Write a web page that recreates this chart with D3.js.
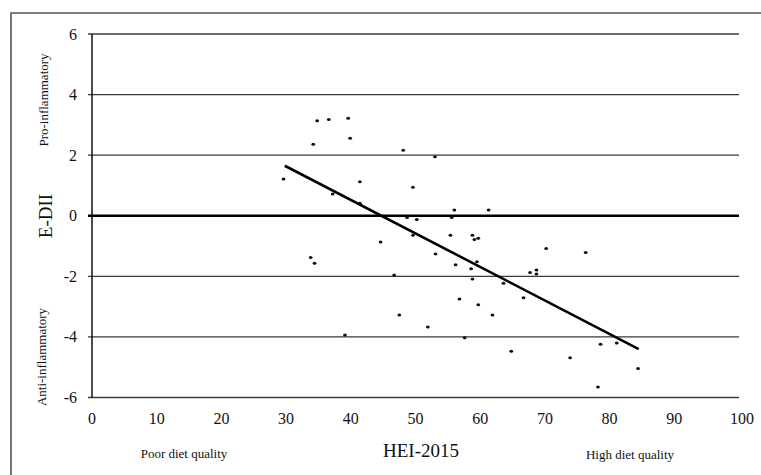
<!DOCTYPE html>
<html>
<head>
<meta charset="utf-8">
<script src="https://cdn.jsdelivr.net/npm/d3@7"></script>
<style>
  body { margin: 0; background: #fff; }
  text { font-family: "Liberation Serif", "Times New Roman", serif; fill: #111; }
</style>
</head>
<body>
<div class="chart"></div>
<script>
//HEI-2015 score of each subject
var heiScores = [34.8, 36.6, 39.6, 34.2, 39.9, 48.1, 53.0, 29.6, 41.4, 49.6,
  37.2, 41.4, 56.0, 61.3, 48.7, 50.2, 55.6, 49.6, 55.4, 58.8,
  59.1, 59.7, 44.6, 70.2, 76.3, 53.1, 33.8, 34.4, 59.5, 56.2,
  58.6, 67.7, 68.7, 68.7, 46.7, 58.8, 63.6, 56.8, 66.7, 59.7,
  47.5, 61.9, 51.9, 39.1, 57.6, 64.8, 73.9, 78.6, 81.1, 84.4, 78.2];

//E-DII score of each subject
var ediiScores = [3.14, 3.18, 3.22, 2.36, 2.56, 2.16, 1.95, 1.21, 1.12, 0.94,
  0.72, 0.41, 0.19, 0.19, -0.06, -0.12, -0.06, -0.64, -0.64, -0.64,
  -0.78, -0.74, -0.87, -1.08, -1.21, -1.26, -1.38, -1.57, -1.52, -1.62,
  -1.75, -1.87, -1.79, -1.92, -1.96, -2.09, -2.23, -2.75, -2.71, -2.94,
  -3.28, -3.28, -3.67, -3.94, -4.03, -4.47, -4.69, -4.24, -4.20, -5.04, -5.65];

//ends of the fitted line
var trendX = [29.8, 84.5];
var trendY = [1.65, -4.40];

//tick labels
var xTicks = [0, 10, 20, 30, 40, 50, 60, 70, 80, 90, 100];
var yTicks = [-6, -4, -2, 0, 2, 4, 6];

const w = 761;
const h = 475;

const svg = d3.select(".chart")
  .append("svg")
  .attr("width", w)
  .attr("height", h);

svg.append("rect").attr("width", w).attr("height", h).attr("fill", "#fff");

//outer frame (only left and top visible)
svg.append("path")
  .attr("d", "M11,475 L11,13 L761,13")
  .attr("fill", "none")
  .attr("stroke", "#555")
  .attr("stroke-width", 1.6);

const xScale = d3.scaleLinear().domain([0, 100]).range([92, 739]);
const yScale = d3.scaleLinear().domain([-6, 6]).range([397.5, 34]);

//horizontal grid lines (extend a little left as tick marks)
svg.selectAll(".grid")
  .data(yTicks)
  .enter()
  .append("line")
  .attr("x1", xScale(0) - 4)
  .attr("x2", xScale(100))
  .attr("y1", (d) => yScale(d))
  .attr("y2", (d) => yScale(d))
  .attr("stroke", (d) => d === 0 ? "#000" : "#3a3a3a")
  .attr("stroke-width", (d) => d === 0 ? 2.6 : 1.4);

//y axis line
svg.append("line")
  .attr("x1", xScale(0))
  .attr("x2", xScale(0))
  .attr("y1", yScale(6))
  .attr("y2", yScale(-6))
  .attr("stroke", "#111")
  .attr("stroke-width", 1.5);

//y tick labels
svg.selectAll(".ylab")
  .data(yTicks)
  .enter()
  .append("text")
  .attr("x", xScale(0) - 15)
  .attr("y", (d) => yScale(d) + 5.5)
  .attr("text-anchor", "end")
  .style("font-size", "16px")
  .text((d) => d);

//x tick labels
svg.selectAll(".xlab")
  .data(xTicks)
  .enter()
  .append("text")
  .attr("x", (d) => xScale(d) + (d === 100 ? 3 : 0))
  .attr("y", 424)
  .attr("text-anchor", "middle")
  .style("font-size", "16px")
  .text((d) => d);

//the subjects
svg.selectAll(".dot")
  .data(heiScores)
  .enter()
  .append("ellipse")
  .attr("cx", (d) => xScale(d))
  .attr("cy", (d, i) => yScale(ediiScores[i]))
  .attr("rx", 1.9)
  .attr("ry", 1.5)
  .attr("fill", "#111");

//fitted line
svg.append("line")
  .attr("x1", xScale(trendX[0]))
  .attr("y1", yScale(trendY[0]))
  .attr("x2", xScale(trendX[1]))
  .attr("y2", yScale(trendY[1]))
  .attr("stroke", "#000")
  .attr("stroke-width", 2.6);

//axis titles
svg.append("text")
  .attr("transform", "translate(52,216) rotate(-90)")
  .attr("text-anchor", "middle")
  .style("font-size", "19px")
  .text("E-DII");

svg.append("text")
  .attr("x", 421)
  .attr("y", 457)
  .attr("text-anchor", "middle")
  .style("font-size", "19px")
  .text("HEI-2015");

//side notes
svg.append("text")
  .attr("transform", "translate(48,100) rotate(-90)")
  .attr("text-anchor", "middle")
  .style("font-size", "13px")
  .text("Pro-inflammatory");

svg.append("text")
  .attr("transform", "translate(46,357) rotate(-90)")
  .attr("text-anchor", "middle")
  .style("font-size", "13px")
  .text("Anti-inflammatory");

svg.append("text")
  .attr("x", 184)
  .attr("y", 458)
  .attr("text-anchor", "middle")
  .style("font-size", "13px")
  .text("Poor diet quality");

svg.append("text")
  .attr("x", 630)
  .attr("y", 459)
  .attr("text-anchor", "middle")
  .style("font-size", "13px")
  .text("High diet quality");
</script>
</body>
</html>
